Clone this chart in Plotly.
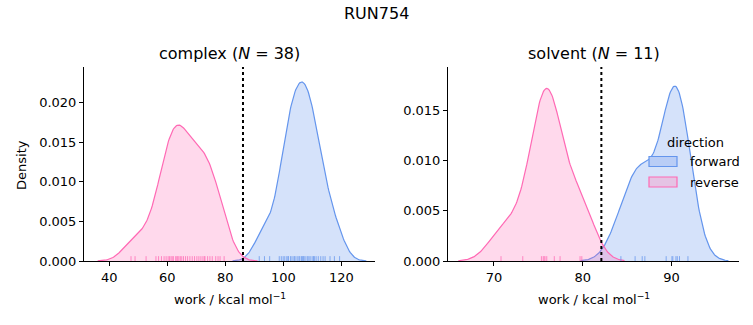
import numpy as np
import plotly.graph_objects as go

# ---------------- data ----------------
complex_forward = [91.7, 93.5, 95.3, 98.6, 99.3, 99.95, 100.5, 101.2, 101.6, 101.8, 102.5,
                   103.0, 103.7, 103.8, 104.35, 105.0, 105.45, 105.7, 106.3, 106.55, 106.9,
                   107.1, 107.5, 108.2, 108.5, 108.9, 109.5, 110.2, 110.4, 110.7, 111.3,
                   112.05, 112.9, 113.7, 114.4, 116.1, 117.6, 119.4]
complex_reverse = [47.5, 48.9, 52.7, 56.1, 57.0, 58.0, 58.9, 59.6, 60.3, 60.8,
                   61.3, 61.7, 62.1, 62.9, 63.3, 63.6, 64.0, 64.5, 65.0,
                   65.6, 66.3, 67.0, 67.8, 68.6, 69.4, 70.2, 70.9, 71.6, 72.3, 72.8,
                   73.0, 73.9, 74.7, 75.5, 76.7, 77.5, 78.2, 79.6]
solvent_forward = [84.3, 85.9, 86.7, 87.0, 89.4, 90.05, 90.15, 90.5, 90.65, 90.9, 91.85]
solvent_reverse = [70.8, 73.25, 75.35, 75.55, 75.65, 75.75, 75.95, 76.8, 77.45, 79.7, 79.9]
estimate_lines = {"complex": 86.1, "solvent": 82.1}
phases = ["complex", "solvent"]
directions = ["forward", "reverse"]
ticks_x = {"complex": [40, 60, 80, 100, 120], "solvent": [70, 80, 90]}
ticks_y = {"complex": [0.0, 0.005, 0.010, 0.015, 0.020], "solvent": [0.0, 0.005, 0.010, 0.015]}

data = {("complex", "forward"): complex_forward, ("complex", "reverse"): complex_reverse,
        ("solvent", "forward"): solvent_forward, ("solvent", "reverse"): solvent_reverse}

# ---------------- styles ----------------
line_col = {"forward": "#6495ED", "reverse": "#FF69B4"}
fill_col = {"forward": "rgba(100,149,237,0.27)", "reverse": "rgba(255,105,180,0.25)"}
legend_fill = {"forward": "#b9cdf6", "reverse": "#e5c3e4"}
FONT = "DejaVu Sans"
W, H = 753, 325
xr = {"complex": [31.3, 131.6], "solvent": [64.83, 97.6]}
yr = {"complex": [0, 0.02447], "solvent": [0, 0.01928]}

n_total = sum(len(v) for v in data.values())


def kde(values, n_total):
    v = np.asarray(values, float)
    n = len(v)
    bw = v.std(ddof=1) * n ** (-0.2)
    grid = np.linspace(v.min() - 3 * bw, v.max() + 3 * bw, 200)
    dens = np.exp(-0.5 * ((grid[:, None] - v[None, :]) / bw) ** 2).sum(1)
    dens /= (n * bw * np.sqrt(2 * np.pi))
    return grid, dens * n / n_total


def py(px):
    return 1 - px / H


fig = go.Figure()
for i, ph in enumerate(phases):
    xa = "x" if i == 0 else "x2"
    ya = "y" if i == 0 else "y2"
    for d in directions:
        g, dens = kde(data[(ph, d)], n_total)
        fig.add_trace(go.Scatter(x=g, y=dens, mode="lines", fill="tozeroy",
                                 fillcolor=fill_col[d], line=dict(color=line_col[d], width=1.2),
                                 xaxis=xa, yaxis=ya, showlegend=False, hoverinfo="skip"))
    for d in directions:
        h = 0.025 * yr[ph][1]
        rx, ry = [], []
        for val in data[(ph, d)]:
            rx += [val, val, None]
            ry += [0, h, None]
        fig.add_trace(go.Scatter(x=rx, y=ry, mode="lines",
                                 line=dict(color=line_col[d], width=1), opacity=0.75,
                                 xaxis=xa, yaxis=ya, showlegend=False, hoverinfo="skip"))
    fig.add_shape(type="line", xref=xa, yref=f"{ya} domain", x0=estimate_lines[ph],
                  x1=estimate_lines[ph], y0=0, y1=1,
                  line=dict(color="black", width=2, dash="dot"))

ydom = [py(261), py(67)]
axis_common = dict(showline=True, linecolor="black", linewidth=1.1, ticks="outside",
                   ticklen=4, tickwidth=1.1, tickcolor="black", showgrid=False, zeroline=False,
                   tickfont=dict(family=FONT, size=13, color="black"), mirror=False,
                   automargin=False)
fig.update_layout(
    width=W, height=H, autosize=False, margin=dict(l=0, r=0, t=0, b=0, pad=0),
    plot_bgcolor="white", paper_bgcolor="white",
    font=dict(family=FONT, color="black"),
    xaxis=dict(domain=[84 / W, 375 / W], range=xr["complex"], tickvals=ticks_x["complex"],
               anchor="y", **axis_common),
    yaxis=dict(domain=ydom, range=yr["complex"], tickvals=ticks_y["complex"], tickformat=".3f",
               anchor="x", **axis_common),
    xaxis2=dict(domain=[448 / W, 739 / W], range=xr["solvent"], tickvals=ticks_x["solvent"],
                anchor="y2", **axis_common),
    yaxis2=dict(domain=ydom, range=yr["solvent"], tickvals=ticks_y["solvent"], tickformat=".3f",
                anchor="x2", **axis_common),
)

xlab = "work / kcal mol<sup>−1</sup>"
annotations = [
    dict(text="RUN754", x=0.5, y=py(13), xref="paper", yref="paper", showarrow=False,
         font=dict(size=16, family=FONT), xanchor="center", yanchor="middle"),
    dict(text="Density", x=21 / W, y=py(165), xref="paper", yref="paper", showarrow=False,
         font=dict(size=13, family=FONT), textangle=-90, xanchor="center", yanchor="middle"),
]
counts = {ph: len(data[(ph, "forward")]) for ph in phases}
for ph, xc in zip(phases, [229.5 / W, 593.5 / W]):
    annotations.append(dict(text=f"{ph} (<i>N</i> = {counts[ph]})", x=xc, y=py(54),
                            xref="paper", yref="paper", showarrow=False,
                            font=dict(size=16, family=FONT), xanchor="center", yanchor="middle"))
    annotations.append(dict(text=xlab, x=xc, y=py(299), xref="paper", yref="paper",
                            showarrow=False, font=dict(size=13, family=FONT),
                            xanchor="center", yanchor="middle"))
# legend
annotations.append(dict(text="direction", x=695 / W, y=py(142), xref="paper", yref="paper",
                        showarrow=False, font=dict(size=13, family=FONT),
                        xanchor="center", yanchor="middle"))
for d, yc in zip(directions, [161.5, 182]):
    fig.add_shape(type="rect", xref="paper", yref="paper", x0=649 / W, x1=677 / W,
                  y0=py(yc + 5), y1=py(yc - 5),
                  fillcolor=legend_fill[d], line=dict(color=line_col[d], width=1.2))
    annotations.append(dict(text=d, x=688 / W, y=py(yc), xref="paper", yref="paper",
                            showarrow=False, font=dict(size=13, family=FONT),
                            xanchor="left", yanchor="middle"))
fig.update_layout(annotations=annotations)

fig.write_html("out.html", config={"responsive": False})
